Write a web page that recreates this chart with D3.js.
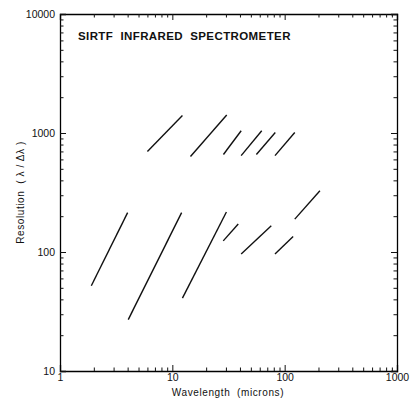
<!DOCTYPE html>
<html><head><meta charset="utf-8">
<script src="https://cdn.jsdelivr.net/npm/d3@7"></script>
<style>
body{margin:0;background:#fff;}
text{font-family:"Liberation Sans","DejaVu Sans",sans-serif;fill:#111;}
</style></head>
<body>
<svg id="c" width="412" height="399"></svg>
<script>
// Segments: [x1, y1, x2, y2] in data units (wavelength microns, resolution)
const highResSegments = [
  [6, 700, 12.3, 1400],
  [14.5, 635, 30.5, 1415],
  [28.5, 660, 41, 1045],
  [41, 645, 62.5, 1045],
  [56, 660, 82.5, 1010],
  [82, 645, 123, 1010]
];
const lowResSegments = [
  [1.9, 52, 4.0, 214],
  [4.05, 27, 12.1, 214],
  [12.3, 41, 30.3, 217],
  [28.4, 124, 38.6, 172],
  [41, 96, 76, 166],
  [82, 96, 119, 135],
  [123, 189, 206, 327]
];
const xTickLabels = [1, 10, 100, 1000];
const yTickLabels = [10, 100, 1000, 10000];
const title = "SIRTF  INFRARED  SPECTROMETER";
const xTitle = "Wavelength  (microns)";
const yTitle = "Resolution  ( \u03bb / \u0394\u03bb )";

const svg = d3.select("#c");
const L = 60, R = 397, T = 14, B = 371;
const x = d3.scaleLog().domain([1, 1000]).range([L, R]);
const y = d3.scaleLog().domain([10, 10000]).range([B, T]);

function minors(lo, hi){
  const out = [];
  for (let d = lo; d < hi; d *= 10) for (let k = 2; k <= 9; k++) out.push(d * k);
  return out;
}
const xMinor = minors(1, 1000), yMinor = minors(10, 10000);
const fmt = d3.format("d");

// bottom
svg.append("g").attr("transform", `translate(0,${B})`)
  .call(d3.axisBottom(x).tickValues(xTickLabels).tickFormat(fmt).tickSize(-6).tickPadding(3))
  .call(g => g.select(".domain").attr("stroke-width", 1.3))
  .call(g => g.selectAll("text").attr("font-size", 10.5));
svg.append("g").attr("transform", `translate(0,${B})`)
  .call(d3.axisBottom(x).tickValues(xMinor).tickFormat("").tickSize(-3.5))
  .call(g => g.select(".domain").remove());
// top
svg.append("g").attr("transform", `translate(0,${T})`)
  .call(d3.axisTop(x).tickValues(xTickLabels).tickFormat("").tickSize(-6))
  .call(g => g.select(".domain").attr("stroke-width", 1.3));
svg.append("g").attr("transform", `translate(0,${T})`)
  .call(d3.axisTop(x).tickValues(xMinor).tickFormat("").tickSize(-3.5))
  .call(g => g.select(".domain").remove());
// left
svg.append("g").attr("transform", `translate(${L},0)`)
  .call(d3.axisLeft(y).tickValues(yTickLabels).tickFormat(fmt).tickSize(-6).tickPadding(5))
  .call(g => g.select(".domain").attr("stroke-width", 1.3))
  .call(g => g.selectAll("text").attr("font-size", 10.5));
svg.append("g").attr("transform", `translate(${L},0)`)
  .call(d3.axisLeft(y).tickValues(yMinor).tickFormat("").tickSize(-3.5))
  .call(g => g.select(".domain").remove());
// right
svg.append("g").attr("transform", `translate(${R},0)`)
  .call(d3.axisRight(y).tickValues(yTickLabels).tickFormat("").tickSize(-6))
  .call(g => g.select(".domain").attr("stroke-width", 1.3));
svg.append("g").attr("transform", `translate(${R},0)`)
  .call(d3.axisRight(y).tickValues(yMinor).tickFormat("").tickSize(-3.5))
  .call(g => g.select(".domain").remove());

svg.selectAll(".tick line").attr("stroke", "#111");

// segments
const segs = highResSegments.concat(lowResSegments);
svg.append("g").selectAll("line").data(segs).join("line")
  .attr("x1", d => x(d[0])).attr("y1", d => y(d[1]))
  .attr("x2", d => x(d[2])).attr("y2", d => y(d[3]))
  .attr("stroke", "#111").attr("stroke-width", 1.4);

// titles
svg.append("text").attr("x", 78).attr("y", 40)
  .attr("font-size", 11.5).attr("font-weight", "bold").attr("letter-spacing", 0.4)
  .style("white-space", "pre").text(title);
svg.append("text").attr("x", 228).attr("y", 396).attr("text-anchor", "middle")
  .attr("font-size", 10).attr("letter-spacing", 0.6).style("white-space", "pre").text(xTitle);
svg.append("text").attr("transform", `translate(24,${(T + B) / 2}) rotate(-90)`).attr("text-anchor", "middle")
  .attr("font-size", 10).attr("letter-spacing", 0.6).style("white-space", "pre").text(yTitle);
</script>
</body></html>
